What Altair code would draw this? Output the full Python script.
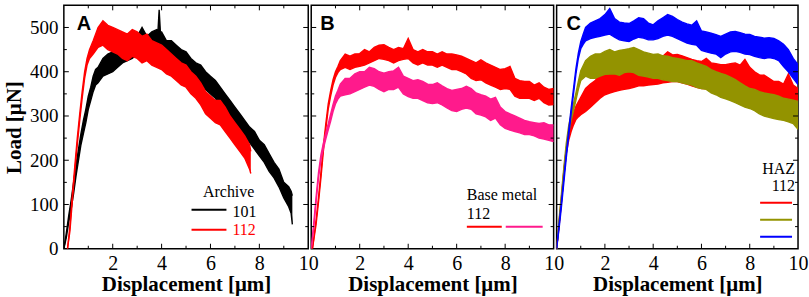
import altair as alt
import pandas as pd

SERIF = "Times New Roman, Liberation Serif, serif"
SANS = "Arial, Liberation Sans, sans-serif"

# ---------------- Panel A : Archive ----------------
A101_D = [0.0, 0.1, 0.2, 0.3, 0.4, 0.5, 0.6, 0.7, 0.8, 0.9, 1.0, 1.1, 1.2, 1.3, 1.4,
          1.6, 1.8, 2.0, 2.2, 2.4, 2.6, 2.8, 3.0, 3.2, 3.4, 3.6, 3.8,
          3.85, 3.9, 3.95,
          4.0, 4.2, 4.4, 4.6, 4.8, 5.0, 5.2, 5.4, 5.6, 5.8, 6.0, 6.2, 6.4, 6.6, 6.8,
          7.0, 7.2, 7.4, 7.6, 7.8, 8.0, 8.2, 8.4, 8.6, 8.8, 9.0, 9.2,
          9.3, 9.35]
A101_LO = [0, 25, 60, 90, 125, 165, 200, 235, 260, 285, 315, 335, 355, 370, 375,
           390, 395, 400, 410, 420, 425, 430, 440, 445, 440, 445, 450,
           455, 455, 450,
           440, 430, 425, 420, 410, 400, 395, 385, 375, 360, 350, 340, 325, 315, 295,
           285, 270, 255, 240, 225, 210, 195, 175, 160, 140, 115, 95,
           80, 55]
A101_HI = [0, 35, 75, 110, 150, 190, 225, 260, 290, 315, 345, 365, 390, 405, 410,
           430, 440, 445, 455, 450, 470, 465, 480, 500, 480, 490, 495,
           490, 540, 490,
           490, 470, 470, 460, 450, 445, 430, 420, 415, 400, 390, 380, 365, 350, 335,
           320, 305, 290, 275, 265, 245, 235, 215, 195, 180, 150, 140,
           130, 120]

A112_D = [0.15, 0.25, 0.35, 0.45, 0.55, 0.65, 0.75, 0.85, 0.95, 1.05,
          1.2, 1.4, 1.6, 1.8, 2.0, 2.2, 2.4, 2.6, 2.8, 3.0,
          3.2, 3.4, 3.6, 3.8, 4.0, 4.2, 4.4, 4.6, 4.8, 5.0,
          5.2, 5.4, 5.6, 5.8, 6.0, 6.2, 6.4, 6.6, 6.8, 7.0,
          7.2, 7.4, 7.6, 7.65]
A112_LO = [0, 40, 110, 175, 235, 290, 340, 385, 415, 430,
           440, 455, 460, 450, 445, 440, 430, 425, 435, 430,
           420, 425, 415, 410, 405, 395, 390, 380, 370, 365,
           350, 340, 325, 305, 295, 285, 280, 265, 250, 235,
           220, 205, 180, 170]
A112_HI = [0, 52, 122, 188, 250, 305, 355, 400, 430, 450,
           470, 500, 515, 505, 500, 495, 490, 485, 495, 490,
           480, 485, 470, 465, 460, 450, 440, 430, 420, 415,
           400, 390, 375, 355, 345, 335, 335, 320, 300, 285,
           270, 255, 235, 220]

# ---------------- Panel B : Base metal 112 ----------------
B_R_D = [0.05, 0.2, 0.3, 0.4, 0.5, 0.6, 0.7, 0.8, 0.9, 1.0, 1.1, 1.2,
         1.4, 1.6, 1.8, 2.0, 2.2, 2.4, 2.6, 2.8, 3.0, 3.2,
         3.4, 3.6, 3.8, 4.0, 4.2, 4.4, 4.6, 4.8, 5.0, 5.2,
         5.4, 5.6, 5.8, 6.0, 6.2, 6.4, 6.6, 6.8, 7.0, 7.2,
         7.4, 7.6, 7.8, 8.0, 8.2, 8.4, 8.6, 8.8, 9.0, 9.2,
         9.4, 9.6, 9.8, 10.0]
B_R_LO = [0, 55, 105, 160, 220, 270, 315, 345, 370, 387, 398, 405,
          410, 405, 410, 412, 415, 420, 425, 430, 428, 425,
          420, 425, 428, 430, 420, 415, 420, 415, 415, 410,
          415, 410, 405, 405, 400, 395, 385, 380, 382, 375,
          370, 365, 360, 362, 360, 345, 340, 340, 340, 335,
          340, 330, 325, 326]
B_R_HI = [0, 65, 115, 172, 232, 282, 327, 357, 382, 400, 412, 425,
          440, 435, 440, 441, 450, 445, 455, 460, 461, 455,
          450, 455, 452, 475, 450, 445, 450, 445, 445, 440,
          445, 440, 440, 438, 435, 430, 425, 420, 427, 420,
          415, 410, 405, 407, 412, 385, 380, 378, 378, 370,
          375, 365, 360, 362]

B_P_D = [0.0, 0.1, 0.2, 0.3, 0.4, 0.5, 0.6, 0.7, 0.8, 0.9, 1.0, 1.1,
         1.2, 1.4, 1.6, 1.8, 2.0, 2.2, 2.4, 2.6, 2.8, 3.0,
         3.2, 3.4, 3.6, 3.8, 4.0, 4.2, 4.4, 4.6, 4.8, 5.0,
         5.2, 5.4, 5.6, 5.8, 6.0, 6.2, 6.4, 6.6, 6.8, 7.0,
         7.2, 7.4, 7.6, 7.8, 8.0, 8.2, 8.4, 8.6, 8.8, 9.0,
         9.2, 9.4, 9.6, 9.8, 10.0]
B_P_LO = [0, 45, 105, 160, 200, 226, 248, 268, 288, 310, 327, 338,
          345, 348, 350, 355, 360, 365, 370, 367, 360, 355,
          360, 360, 365, 350, 344, 340, 340, 335, 330, 328,
          330, 325, 318, 312, 310, 315, 318, 315, 305, 302,
          298, 290, 295, 280, 272, 268, 265, 262, 258, 258,
          255, 250, 248, 245, 242]
B_P_HI = [0, 55, 117, 172, 212, 238, 262, 282, 304, 326, 345, 358,
          372, 385, 385, 395, 400, 400, 410, 407, 400, 397,
          400, 402, 410, 390, 385, 380, 382, 378, 372, 371,
          375, 368, 362, 358, 360, 362, 367, 362, 352, 348,
          345, 338, 342, 320, 310, 305, 300, 295, 290, 287,
          285, 283, 285, 280, 280]

# ---------------- Panel C : HAZ 112 ----------------
C_RO_D = [0.0, 0.1, 0.2, 0.3, 0.4, 0.5, 0.6, 0.7, 0.8, 0.9, 1.0,
          1.2, 1.4, 1.6, 1.8, 2.0, 2.2, 2.4, 2.6, 2.8, 3.0,
          3.2, 3.4, 3.6, 3.8, 4.0, 4.2, 4.4, 4.6, 4.8, 5.0,
          5.2, 5.4, 5.6, 5.8, 6.0, 6.2, 6.4, 6.6, 6.8, 7.0,
          7.2, 7.4, 7.6, 7.8, 8.0, 8.2, 8.4, 8.6, 8.8, 9.0,
          9.2, 9.4, 9.6, 9.8, 10.0]
C_R_LO = [0, 50, 105, 165, 215, 245, 265, 280, 292, 298, 303,
          310, 320, 330, 340, 348, 352, 355, 358, 360, 362,
          365, 368, 368, 370, 371, 372, 375, 376, 378, 378,
          375, 372, 368, 365, 362, 362, 362, 362, 362, 362,
          360, 358, 355, 355, 350, 345, 340, 338, 332, 326,
          325, 320, 310, 300, 287]
C_R_HI = [0, 60, 117, 177, 227, 262, 287, 307, 322, 332, 342,
          362, 372, 380, 395, 407, 405, 412, 410, 414, 416,
          420, 425, 422, 428, 430, 432, 435, 445, 438, 439,
          436, 432, 428, 425, 423, 430, 420, 418, 416, 416,
          418, 420, 415, 428, 410, 400, 393, 392, 385, 378,
          378, 372, 395, 370, 362]
C_O_LO = [0, 55, 112, 172, 226, 262, 290, 312, 336, 360, 380,
          390, 385, 385, 390, 394, 395, 395, 392, 398, 400,
          398, 392, 390, 388, 385, 385, 382, 380, 378, 378,
          375, 372, 370, 365, 362, 360, 352, 348, 342, 339,
          335, 330, 325, 320, 317, 312, 305, 300, 297, 294,
          292, 290, 287, 283, 270]
C_O_HI = [0, 65, 124, 184, 238, 278, 305, 328, 352, 378, 402,
          425, 435, 440, 440, 446, 450, 445, 448, 450, 452,
          455, 450, 445, 442, 439, 440, 436, 435, 432, 430,
          428, 425, 425, 420, 416, 412, 405, 400, 396, 393,
          388, 382, 375, 368, 362, 360, 355, 352, 350, 348,
          345, 340, 338, 336, 333]

C_B_D = [0.0, 0.1, 0.2, 0.3, 0.4, 0.5, 0.6, 0.7, 0.8, 0.9, 1.0, 1.1,
         1.2, 1.4, 1.6, 1.8, 2.0, 2.2, 2.4, 2.6, 2.8, 3.0,
         3.2, 3.4, 3.6, 3.8, 4.0, 4.2, 4.4, 4.6, 4.8, 5.0,
         5.2, 5.4, 5.6, 5.8, 6.0, 6.2, 6.4, 6.6, 6.8, 7.0,
         7.2, 7.4, 7.6, 7.8, 8.0, 8.2, 8.4, 8.6, 8.8, 9.0,
         9.2, 9.4, 9.6, 9.8, 10.0]
C_B_LO = [0, 45, 95, 150, 205, 255, 305, 350, 395, 430, 452, 462,
          470, 475, 478, 480, 483, 485, 478, 472, 470, 468,
          474, 478, 476, 472, 472, 475, 480, 483, 480, 475,
          470, 465, 462, 460, 448, 445, 442, 440, 432, 440,
          445, 446, 444, 440, 439, 435, 432, 430, 432, 430,
          425, 412, 400, 385, 371]
C_B_HI = [0, 55, 107, 162, 217, 267, 317, 362, 407, 442, 468, 485,
          500, 510, 515, 520, 529, 543, 520, 512, 510, 509,
          515, 522, 520, 510, 506, 515, 522, 529, 525, 518,
          512, 508, 505, 515, 492, 490, 487, 484, 480, 485,
          490, 491, 488, 485, 484, 480, 478, 476, 477, 475,
          470, 462, 450, 430, 416]

# ---------------- axes / ticks / labels ----------------
X_LABELS = [2, 4, 6, 8, 10]
Y_LABELS = [0, 100, 200, 300, 400, 500]
X_MAJOR = [2, 4, 6, 8]
X_MINOR = [1, 3, 5, 7, 9]
Y_MAJOR = [100, 200, 300, 400, 500]
Y_MINOR = [50, 150, 250, 350, 450]
X_TITLE = "Displacement [μm]"
Y_TITLE = "Load [μN]"

RED = "#ff0000"
BLACK = "#000000"
PINK = "#ff1a8c"
OLIVE = "#939300"
BLUE = "#0000ff"

H = 244
XSC = alt.Scale(domain=[0, 10], nice=False, zero=False)
YSC = alt.Scale(domain=[0, 550], nice=False, zero=False)

XAX = alt.Axis(values=X_LABELS, title=X_TITLE, ticks=False, tickSize=0, domain=False, grid=False,
               labelFont=SERIF, labelFontSize=20, labelColor="black", labelPadding=5,
               labelFlush=False, labelOverlap=False, labelBound=False,
               titleFont=SERIF, titleFontSize=21, titleFontWeight="bold", titleColor="black",
               titlePadding=0)
YAX = alt.Axis(values=Y_LABELS, title=Y_TITLE, ticks=False, tickSize=0, domain=False, grid=False,
               labelFont=SERIF, labelFontSize=19, labelColor="black", labelPadding=6,
               labelFlush=False, labelOverlap=False, labelBound=False,
               titleFont=SERIF, titleFontSize=21, titleFontWeight="bold", titleColor="black",
               titlePadding=5)


def xenc(field):
    return alt.X(field, type="quantitative", scale=XSC, axis=XAX)


def yenc(field, yax):
    return alt.Y(field, type="quantitative", scale=YSC, axis=yax)


def curve(d, lo, hi, color, yax):
    df = pd.DataFrame({"d": d, "lo": lo, "hi": hi})
    base = alt.Chart(df)
    area = base.mark_area(color=color, opacity=1, clip=True).encode(
        x=xenc("d"), y=yenc("lo", yax), y2="hi:Q")
    l1 = base.mark_line(color=color, strokeWidth=1.4, clip=True).encode(x=xenc("d"), y=yenc("lo", yax))
    l2 = base.mark_line(color=color, strokeWidth=1.4, clip=True).encode(x=xenc("d"), y=yenc("hi", yax))
    return [area, l1, l2]


def ticks(width, yax):
    out = []
    for vals, ln in ((X_MAJOR, 5), (X_MINOR, 3)):
        df = pd.DataFrame({"d": vals})
        b = alt.Chart(df).mark_rule(color="black", strokeWidth=1)
        out.append(b.encode(x=xenc("d"), y=alt.value(H), y2=alt.value(H - ln)))
        out.append(b.encode(x=xenc("d"), y=alt.value(0), y2=alt.value(ln)))
    for vals, ln in ((Y_MAJOR, 5), (Y_MINOR, 3)):
        df = pd.DataFrame({"lo": vals})
        b = alt.Chart(df).mark_rule(color="black", strokeWidth=1)
        out.append(b.encode(y=yenc("lo", yax), x=alt.value(0), x2=alt.value(ln)))
        out.append(b.encode(y=yenc("lo", yax), x=alt.value(width), x2=alt.value(width - ln)))
    return out


def text(label, x, y, color="black", font=SERIF, size=16, weight="normal", align="left"):
    df = pd.DataFrame({"t": [label]})
    return alt.Chart(df).mark_text(font=font, fontSize=size, fontWeight=weight, color=color,
                                   align=align, baseline="alphabetic").encode(
        text="t:N", x=alt.value(x), y=alt.value(y))


def seg(x1, x2, y, color):
    df = pd.DataFrame({"k": [0]})
    return alt.Chart(df).mark_rule(color=color, strokeWidth=2).encode(
        x=alt.value(x1), x2=alt.value(x2), y=alt.value(y))


# Panel A
WA = 245
layersA = curve(A101_D, A101_LO, A101_HI, BLACK, YAX) + curve(A112_D, A112_LO, A112_HI, RED, YAX)
layersA += ticks(WA, YAX)
layersA += [text("A", 13, 25, font=SANS, size=20, weight="bold"),
            text("Archive", 191, 192, align="right"),
            seg(128, 163, 205, BLACK), text("101", 169, 212),
            seg(128, 163, 225, RED), text("112", 169, 230, color=RED)]
pA = alt.layer(*layersA).properties(width=WA, height=H)

# Panel B
WB = 243
layersB = curve(B_R_D, B_R_LO, B_R_HI, RED, None) + curve(B_P_D, B_P_LO, B_P_HI, PINK, None)
layersB += ticks(WB, None)
layersB += [text("B", 9, 25, font=SANS, size=20, weight="bold"),
            text("Base metal", 156, 195),
            text("112", 156, 214),
            seg(156, 191, 222, RED), seg(195, 232, 222, PINK)]
pB = alt.layer(*layersB).properties(width=WB, height=H)

# Panel C
WC = 242
layersC = (curve(C_RO_D, C_R_LO, C_R_HI, RED, None) + curve(C_RO_D, C_O_LO, C_O_HI, OLIVE, None)
           + curve(C_B_D, C_B_LO, C_B_HI, BLUE, None))
layersC += ticks(WC, None)
layersC += [text("C", 10, 25, font=SANS, size=20, weight="bold"),
            text("HAZ", 239, 169, align="right"),
            text("112", 239, 186, align="right"),
            seg(204, 236, 198, RED), seg(204, 236, 215, OLIVE), seg(204, 236, 232, BLUE)]
pC = alt.layer(*layersC).properties(width=WC, height=H)

chart = alt.hconcat(pA, pB, pC, spacing=3, bounds="flush").properties(
    padding={"left": 2, "top": 3, "right": 0, "bottom": 0}
).configure_view(stroke="black", strokeWidth=1.5)

chart.save("out.html", embed_options={"renderer": "svg", "actions": False})
